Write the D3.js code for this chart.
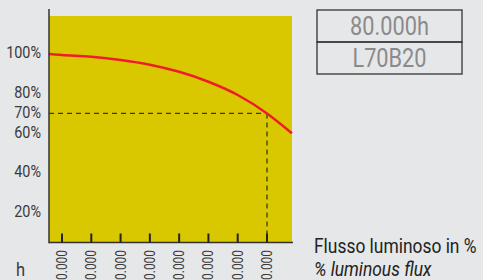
<!DOCTYPE html>
<html><head><meta charset="utf-8">
<script src="https://cdn.jsdelivr.net/npm/d3@7"></script>
<style>
html,body{margin:0;padding:0;background:#e6e7e9;overflow:hidden;}
svg{display:block;}
text{font-family:"Roboto","Liberation Sans",sans-serif;}
</style></head><body>
<script>
// data
const hours = [5500, 10000, 20000, 30000, 40000, 50000, 60000, 70000, 80000, 88500];
const flux  = [100, 99.5, 98.6, 97.0, 94.6, 91.0, 86.0, 79.3, 70, 60];
const xTicks = [10000, 20000, 30000, 40000, 50000, 60000, 70000, 80000];
const yTicks = [20, 40, 60, 70, 80, 100];
const boxLabels = ["80.000h", "L70B20"];
const legendLines = ["Flusso luminoso in %", "% luminous flux"];
const targetHours = 80000, targetFlux = 70;

(function(){
const W = 483, H = 280;
const svg = d3.select("body").append("svg").attr("width", W).attr("height", H);

const x = d3.scaleLinear().domain([10000, 80000]).range([62, 267]);
const y = d3.scaleLinear().domain([0, 100]).range([252, 54]);
const pL = 49, pR = 292, pT = 16, pB = 242.5;

svg.append("rect").attr("x", pL).attr("y", pT).attr("width", pR - pL).attr("height", pB - pT).attr("fill", "#d9c800");

// dashed reference lines
const dash = svg.append("g").attr("stroke", "#3a3a1a").attr("stroke-width", 1.3).attr("stroke-dasharray", "5,4").attr("fill", "none");
dash.append("line").attr("x1", pL).attr("x2", x(targetHours)).attr("y1", y(targetFlux)).attr("y2", y(targetFlux));
dash.append("line").attr("x1", x(targetHours)).attr("x2", x(targetHours)).attr("y1", y(targetFlux)).attr("y2", pB);

// curve
const pts = hours.map((h, i) => [h, flux[i]]);
svg.append("path").datum(pts)
  .attr("d", d3.line().x(d => x(d[0])).y(d => y(d[1])).curve(d3.curveMonotoneX))
  .attr("fill", "none").attr("stroke", "#ee1c2e").attr("stroke-width", 2.5);

// axes
svg.append("line").attr("x1", pL).attr("x2", pL).attr("y1", 9).attr("y2", pB + 0.75).attr("stroke", "#333").attr("stroke-width", 1.5);
svg.append("line").attr("x1", pL).attr("x2", pR + 1).attr("y1", pB).attr("y2", pB).attr("stroke", "#333").attr("stroke-width", 1.5);

svg.append("g").selectAll("line").data(xTicks).join("line")
  .attr("x1", d => x(d)).attr("x2", d => x(d)).attr("y1", pB - 9).attr("y2", pB)
  .attr("stroke", "#222").attr("stroke-width", 2);

const fmt = d => d3.format(",")(d).replace(/,/g, ".");
svg.append("g").selectAll("text").data(xTicks).join("text")
  .attr("transform", d => `translate(${x(d)},250) rotate(-90) scale(0.85,1)`)
  .attr("dy", "0.36em").attr("text-anchor", "end")
  .attr("font-size", 14).attr("fill", "#3a3a3a").text(fmt);

svg.append("g").selectAll("text").data(yTicks).join("text")
  .attr("transform", d => `translate(41,${y(d)}) scale(0.9,1)`)
  .attr("dy", "0.28em").attr("text-anchor", "end")
  .attr("font-size", 16).attr("fill", "#3a3a3a").text(d => d + "%");

svg.append("text").attr("transform", "translate(16,276) scale(0.92,1)").attr("font-size", 18).attr("fill", "#3a3a3a").text("h");

// boxes
const bx = 317, bw = 145, bh = 32, by = 10;
boxLabels.forEach((t, i) => {
  svg.append("rect").attr("x", bx).attr("y", by + i * bh).attr("width", bw).attr("height", bh)
    .attr("fill", "none").attr("stroke", "#333").attr("stroke-width", 1.3);
  svg.append("text").attr("transform", `translate(${bx + bw / 2},${by + i * bh + bh / 2}) scale(0.87,1)`).attr("dy", "0.36em")
    .attr("text-anchor", "middle").attr("font-size", 25).attr("fill", "#8a8a8a").text(t);
});

// legend
svg.append("text").attr("transform", "translate(314,253) scale(0.87,1)").attr("font-size", 20).attr("fill", "#222").text(legendLines[0]);
svg.append("text").attr("transform", "translate(314,276) scale(0.87,1)").attr("font-size", 20).attr("font-style", "italic").attr("fill", "#222").text(legendLines[1]);
})();
</script>
</body></html>
